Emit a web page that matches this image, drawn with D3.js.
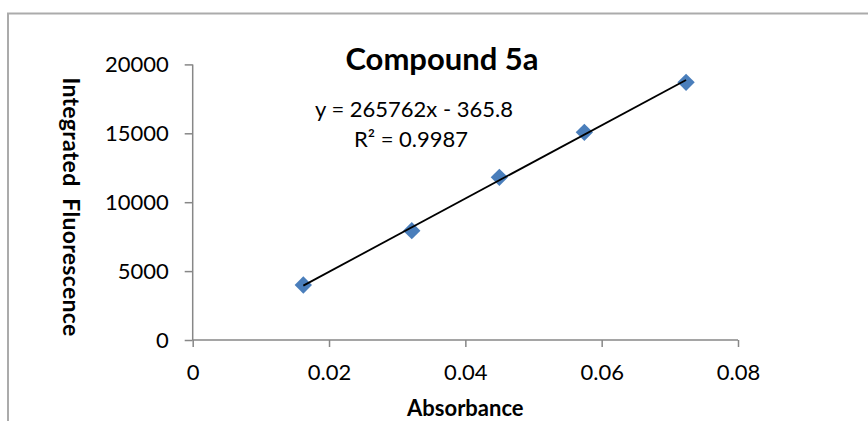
<!DOCTYPE html>
<html>
<head>
<meta charset="utf-8">
<script src="https://cdn.jsdelivr.net/npm/d3@7"></script>
<style>
  html, body { margin: 0; padding: 0; background: #fff; }
  svg { display: block; }
  text { font-family: Lato, "Open Sans", sans-serif; fill: #000; }
</style>
</head>
<body>
<svg id="chart" width="868" height="421"></svg>
<script>
// Calibration data for compound 5a
const absorbance = [0.01623, 0.03214, 0.04499, 0.05746, 0.07238];
const fluorescence = [3991, 7932, 11807, 15073, 18701];
const xTicks = [0, 0.02, 0.04, 0.06, 0.08];
const yTicks = [0, 5000, 10000, 15000, 20000];
// Linear fit reported on the chart
const fitSlope = 265762;
const fitIntercept = -365.8;
const fitR2 = "0.9987";
const chartTitle = "Compound 5a";
const xTitle = "Absorbance";
const yTitle = "Integrated  Fluorescence";

const svg = d3.select("#chart");

// Outer chart frame (runs off the right and bottom edges)
svg.append("path")
  .attr("d", "M8,430 V13.5 H880")
  .attr("fill", "none")
  .attr("stroke", "#ababab")
  .attr("stroke-width", 2);

const x = d3.scaleLinear().domain([0, 0.08]).range([192.7, 738]);
const y = d3.scaleLinear().domain([0, 20000]).range([340, 64.4]);

const axisColor = "#878787";
const labelFont = "Lato, sans-serif";

// Y axis
const yAxis = svg.append("g")
  .attr("transform", `translate(${x(0)},0)`)
  .call(d3.axisLeft(y).tickValues(yTicks).tickSize(8).tickPadding(16).tickFormat(d3.format("d")));
// X axis
const xAxis = svg.append("g")
  .attr("transform", `translate(0,${y(0)})`)
  .call(d3.axisBottom(x).tickValues(xTicks).tickSize(7)
    .tickFormat(d => d === 0 ? "0" : d3.format(".2f")(d)));

[yAxis, xAxis].forEach(g => {
  g.select(".domain").attr("stroke", axisColor).attr("stroke-width", 1.5);
  g.selectAll(".tick line").attr("stroke", axisColor).attr("stroke-width", 1.5);
  g.selectAll(".tick text").attr("fill", "#000")
    .style("font-size", "22px").style("font-family", labelFont);
});
xAxis.selectAll(".tick text").attr("y", 32).attr("dy", "0.35em");
// Plain axis lines without the outer end ticks
yAxis.select(".domain").attr("d", `M0,${y(0)}V${y(20000)}`);
xAxis.select(".domain").attr("d", `M${x(0)},0H${x(0.08)}`);

// Diamond markers
const points = absorbance.map((a, i) => [a, fluorescence[i]]);
const diamond = d3.symbol().type(d3.symbolSquare).size(150);
svg.append("g")
  .selectAll("path")
  .data(points)
  .join("path")
  .attr("d", diamond)
  .attr("transform", d => `translate(${x(d[0])},${y(d[1])}) rotate(45)`)
  .attr("fill", "#4a7ebb");

// Linear trendline over the data range
const xMin = d3.min(absorbance), xMax = d3.max(absorbance);
svg.append("line")
  .attr("x1", x(xMin)).attr("y1", y(fitSlope * xMin + fitIntercept))
  .attr("x2", x(xMax)).attr("y2", y(fitSlope * xMax + fitIntercept))
  .attr("stroke", "#000").attr("stroke-width", 1.8);

// Title
svg.append("text")
  .attr("x", 442).attr("y", 70)
  .attr("text-anchor", "middle")
  .style("font-size", "31px").style("font-weight", "bold")
  .text(chartTitle);

// Fit equation and R²
svg.append("text")
  .attr("x", 414).attr("y", 117)
  .attr("text-anchor", "middle")
  .style("font-size", "22px")
  .text(`y = ${fitSlope}x - ${Math.abs(fitIntercept)}`);
svg.append("text")
  .attr("x", 411).attr("y", 147)
  .attr("text-anchor", "middle")
  .style("font-size", "22px")
  .text(`R² = ${fitR2}`);

// Axis titles
svg.append("text")
  .attr("x", (x(0) + x(0.08)) / 2).attr("y", 416)
  .attr("text-anchor", "middle")
  .style("font-size", "22px").style("font-weight", "bold")
  .text(xTitle);
svg.append("text")
  .attr("transform", "translate(63,207) rotate(90)")
  .attr("text-anchor", "middle")
  .style("font-size", "23px").style("font-weight", "bold")
  .style("letter-spacing", "0.3px")
  .style("white-space", "pre")
  .text(yTitle);
</script>
</body>
</html>
